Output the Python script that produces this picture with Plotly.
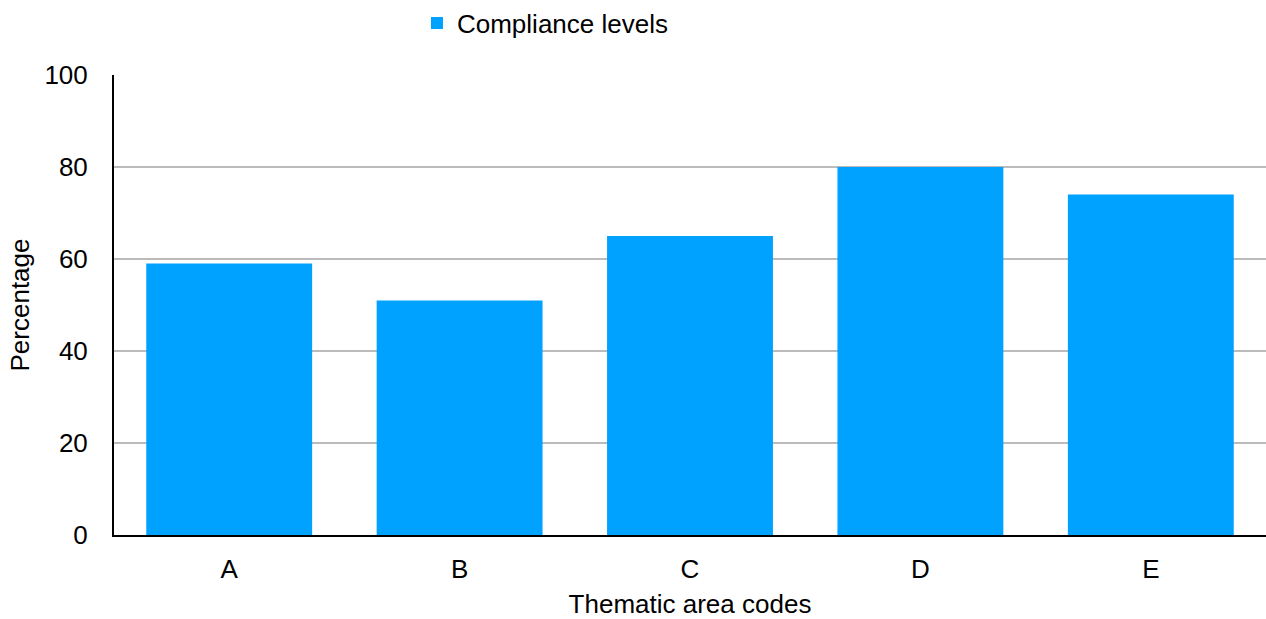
import plotly.graph_objects as go

categories = ["A", "B", "C", "D", "E"]
compliance = [59, 51, 65, 80, 74]
y_ticks = [0, 20, 40, 60, 80, 100]

font = "Liberation Sans, Arial, Helvetica, sans-serif"
fs = 26

fig = go.Figure()
fig.add_trace(go.Bar(x=categories, y=compliance, name="Compliance levels",
                     marker=dict(color="#00A2FF", line=dict(width=0))))

fig.update_layout(
    width=1266, height=619,
    margin=dict(l=114, r=0, t=75, b=84, autoexpand=False),
    paper_bgcolor="white", plot_bgcolor="white",
    font=dict(family=font, size=fs, color="black"),
    bargap=0.28,
    showlegend=True,
    legend=dict(orientation="h", x=0.263, xanchor="left", y=1.113, yanchor="middle",
                font=dict(size=fs), itemwidth=30),
    xaxis=dict(title=dict(text="Thematic area codes", font=dict(size=fs), standoff=21),
               showline=True, linecolor="black", linewidth=2, ticks="",
               showgrid=False, ticklabelstandoff=10),
    yaxis=dict(title=dict(text="Percentage", font=dict(size=fs), standoff=7),
               range=[0, 100], tickvals=y_ticks, showline=True, linecolor="black",
               linewidth=2, gridcolor="#BBBBBB", gridwidth=2, zeroline=False,
               ticks="", ticklabelstandoff=19),
)
fig.write_html("out.html", config={"displayModeBar": False},
               post_script="document.body.style.margin='0';document.body.style.overflow='hidden';")
